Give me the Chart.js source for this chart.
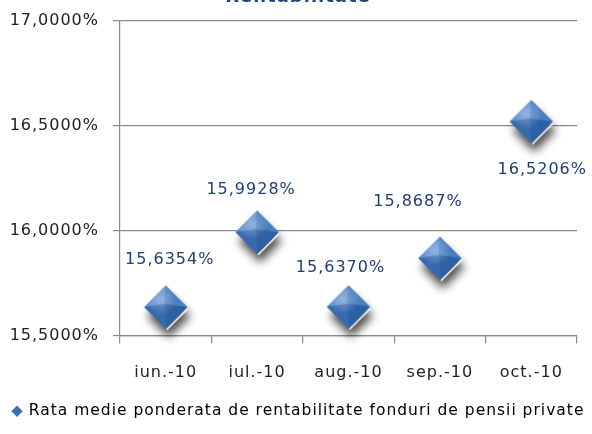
<!DOCTYPE html>
<html>
<head>
<meta charset="utf-8">
<script src="https://cdn.jsdelivr.net/npm/chart.js@4"></script>
<style>
html,body{margin:0;padding:0;background:#fff;}
#wrap{width:592px;height:434px;position:relative;}
</style>
</head>
<body>
<div id="wrap"><canvas id="c" width="592" height="434"></canvas></div>
<script>
const chartTitle = 'Rentabilitate';
const categories = ['iun.-10', 'iul.-10', 'aug.-10', 'sep.-10', 'oct.-10'];
const seriesName = 'Rata medie ponderata de rentabilitate fonduri de pensii private';
const seriesValues = [15.6354, 15.9928, 15.6370, 15.8687, 16.5206];
const yTicks = [15.5, 16.0, 16.5, 17.0];
// label placement relative to each marker (dx, dy in px)
const labelOffsets = [[4, -47], [-6, -42], [-8, -39], [-22, -56], [11, 48]];

const FONT = 'DejaVu Sans';
const fmt = v => v.toFixed(4).replace('.', ',') + '%';

function makeDiamond() {
  const S = 76, c = document.createElement('canvas');
  c.width = S; c.height = S;
  const g = c.getContext('2d');
  const cx = 38, cy = 38, r = 21.5;
  const T = [cx, cy - r], R = [cx + r, cy], B = [cx, cy + r], L = [cx - r, cy];
  const path = () => { g.beginPath(); g.moveTo(...T); g.lineTo(...R); g.lineTo(...B); g.lineTo(...L); g.closePath(); };
  g.save();
  g.shadowColor = 'rgba(0,0,0,0.7)';
  g.shadowBlur = 10; g.shadowOffsetX = 3; g.shadowOffsetY = 9;
  path(); g.fillStyle = '#3a6fb3'; g.fill();
  g.restore();
  const A = [cx - 1, cy - 3];
  const facet = (p1, p2, col) => { g.beginPath(); g.moveTo(...p1); g.lineTo(...p2); g.lineTo(...A); g.closePath(); g.fillStyle = col; g.fill(); };
  facet(L, T, '#5f90cf');
  facet(T, R, '#4a7ec2');
  facet(R, B, '#2d61a4');
  facet(B, L, '#3769ad');
  const rg = g.createRadialGradient(cx - 5, cy - 8, 1, cx - 5, cy - 8, 16);
  rg.addColorStop(0, 'rgba(255,255,255,0.3)');
  rg.addColorStop(1, 'rgba(255,255,255,0)');
  path(); g.fillStyle = rg; g.fill();
  g.beginPath(); g.moveTo(R[0] + 0.5, R[1] + 1.5); g.lineTo(B[0] + 1, B[1] + 1);
  g.strokeStyle = '#ffffff'; g.lineWidth = 1.6; g.stroke();
  return c;
}
const diamondImg = makeDiamond();

const setSpacing = chart => { chart.ctx.letterSpacing = '1px'; };
const spacingPlugin = {
  id: 'spacing',
  beforeInit: setSpacing,
  beforeUpdate: setSpacing,
  beforeLayout: setSpacing,
  beforeDraw: setSpacing
};

const titlePlugin = {
  id: 'topTitle',
  afterDraw(chart) {
    const ctx = chart.ctx;
    ctx.save();
    ctx.font = 'bold 18px ' + FONT;
    ctx.fillStyle = '#1f497d';
    ctx.textAlign = 'center';
    ctx.textBaseline = 'alphabetic';
    ctx.fillText(chartTitle, 298, 2);
    ctx.restore();
  }
};

const labelPlugin = {
  id: 'valueLabels',
  afterDatasetsDraw(chart) {
    const ctx = chart.ctx;
    const meta = chart.getDatasetMeta(0);
    ctx.save();
    ctx.font = '16px ' + FONT;
    ctx.fillStyle = '#1f3f6e';
    ctx.textAlign = 'center';
    ctx.textBaseline = 'middle';
    meta.data.forEach((pt, i) => {
      const o = labelOffsets[i];
      ctx.fillText(fmt(seriesValues[i]), pt.x + o[0], pt.y + o[1]);
    });
    ctx.restore();
  }
};

new Chart(document.getElementById('c'), {
  type: 'line',
  data: {
    labels: categories,
    datasets: [{
      label: seriesName,
      data: seriesValues,
      showLine: false,
      clip: false,
      pointStyle: diamondImg,
      pointRadius: 21,
      pointHoverRadius: 21,
      backgroundColor: '#3a6fb3',
      borderColor: '#3a6fb3'
    }]
  },
  options: {
    responsive: false,
    animation: false,
    events: [],
    layout: { autoPadding: false, padding: { left: 0, right: 0, top: 21, bottom: 5 } },
    plugins: {
      title: { display: false },
      tooltip: { enabled: false },
      legend: {
        position: 'bottom',
        align: 'start',
        labels: {
          usePointStyle: true,
          boxWidth: 8,
          boxHeight: 8,
          padding: 13,
          color: '#222',
          font: { family: FONT, size: 15.5 },
          generateLabels: () => [{
            text: seriesName, fillStyle: '#3a6fb3', strokeStyle: '#3a6fb3',
            lineWidth: 0, pointStyle: 'rectRot', hidden: false, datasetIndex: 0
          }]
        }
      }
    },
    scales: {
      y: {
        min: yTicks[0],
        max: yTicks[yTicks.length - 1],
        afterBuildTicks: ax => { ax.ticks = yTicks.map(v => ({ value: v })); },
        afterFit: ax => { ax.width = 120; ax.paddingTop = 0; ax.paddingBottom = 0; },
        ticks: {
          color: '#222',
          font: { family: FONT, size: 16 },
          padding: 14,
          callback: v => fmt(v)
        },
        grid: { color: '#8a8a8a', lineWidth: 1.2, tickLength: 7 },
        border: { color: '#8a8a8a', width: 1.2 }
      },
      yRightSpacer: {
        position: 'right',
        min: yTicks[0],
        max: yTicks[yTicks.length - 1],
        afterFit: ax => { ax.width = 15; ax.paddingTop = 0; ax.paddingBottom = 0; },
        ticks: { display: false },
        grid: { display: false, drawTicks: false },
        border: { display: false }
      },
      x: {
        offset: true,
        afterFit: ax => { ax.height = 55; ax.paddingLeft = 0; ax.paddingRight = 0; },
        ticks: {
          color: '#222',
          font: { family: FONT, size: 16 },
          padding: 20,
          maxRotation: 0
        },
        grid: { offset: true, drawOnChartArea: false, color: '#8a8a8a', lineWidth: 1.2, tickLength: 8 },
        border: { color: '#8a8a8a', width: 1.2 }
      }
    }
  },
  plugins: [spacingPlugin, titlePlugin, labelPlugin]
});
</script>
</body>
</html>
